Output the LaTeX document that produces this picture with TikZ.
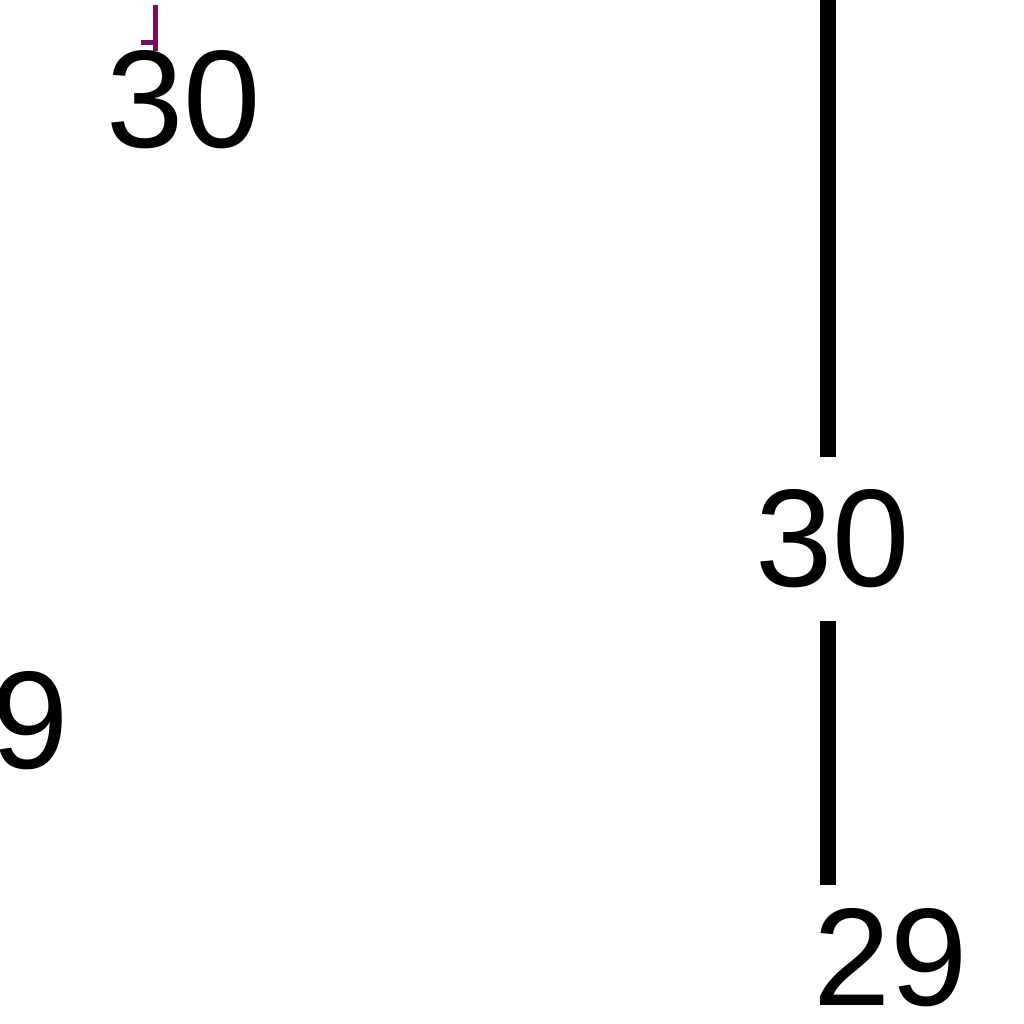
\documentclass[tikz,border=0pt]{standalone}
\usepackage{fontspec}
\setmainfont{Liberation Sans}
\definecolor{edgepurple}{RGB}{122,14,90}
\begin{document}
\begin{tikzpicture}[x=1pt,y=-1pt,
  num/.style={font=\fontsize{139}{139}\selectfont, inner sep=0pt, outer sep=0pt},
  edge/.style={draw=black, line width=16pt},
  pedge/.style={draw=edgepurple, line width=5pt}]
\useasboundingbox (0,0) rectangle (1024,1024);
\node[num] (n30a) at (184,100) {30};
\node[num, inner ysep=33pt] (n30b) at (833,539) {30};
\node[num, inner ysep=24pt] (n29) at (891,958) {29};
\node[num] (n9) at (30,721) {9};
\coordinate (top) at (828,-10);
\coordinate (ptop) at (155,5);
\coordinate (ptick) at (141,43);
\draw[edge] (top) -- (top |- n30b.north);
\draw[edge] (top |- n30b.south) -- (top |- n29.north);
\draw[pedge] (ptop) -- (ptop |- n30a.north);
\draw[pedge] (ptick) -- (ptop |- ptick);
\end{tikzpicture}
\end{document}
